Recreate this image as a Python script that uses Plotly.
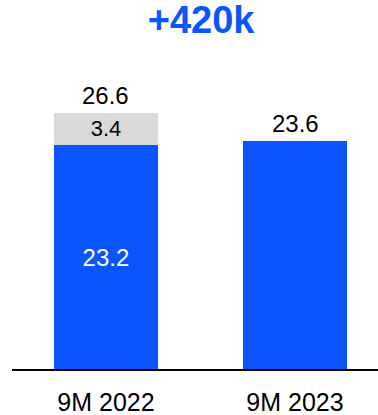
import plotly.graph_objects as go

categories = ["9M 2022", "9M 2023"]
base_values = [23.2, 23.6]
extra_values = [3.4, 0]
total_labels = ["26.6", "23.6"]
title_text = "+420k"

BLUE = "#0A55FF"
GRAY = "#D9D9D9"
FONT = "Liberation Sans, Arial, sans-serif"

fig = go.Figure()
fig.add_trace(go.Bar(
    x=categories, y=base_values, marker_color=BLUE, width=0.55,
    text=[f"{v:.1f}" if i == 0 else "" for i, v in enumerate(base_values)],
    textposition="inside", insidetextanchor="middle",
    textfont=dict(color="white", size=24, family=FONT),
    marker_line_width=0, showlegend=False, hoverinfo="skip",
))
fig.add_trace(go.Bar(
    x=categories, y=extra_values, marker_color=GRAY, width=0.55,
    text=[f"{v:.1f}" if v else "" for v in extra_values],
    textposition="inside", insidetextanchor="middle",
    textfont=dict(color="black", size=22, family=FONT),
    marker_line_width=0, showlegend=False, hoverinfo="skip",
))

totals = [b + e for b, e in zip(base_values, extra_values)]
for c, t, lab in zip(categories, totals, total_labels):
    fig.add_annotation(x=c, y=t, text=lab, showarrow=False, yanchor="bottom",
                       yshift=2, font=dict(size=24, color="black", family=FONT))

fig.update_layout(
    barmode="stack",
    width=378, height=415,
    margin=dict(l=12, r=0, t=60, b=46),
    paper_bgcolor="white", plot_bgcolor="white",
    title=dict(text=f"<b>{title_text}</b>", x=0.532, xanchor="center",
               y=1 - 20 / 415, yanchor="middle",
               font=dict(size=38, color=BLUE, family=FONT)),
    font=dict(family=FONT),
    uniformtext=dict(mode=False),
)
fig.update_xaxes(range=[-0.497, 1.439], showline=True, linecolor="black", linewidth=1.5,
                 ticks="", ticklabelstandoff=10,
                 tickfont=dict(size=25, color="black", family=FONT),
                 showgrid=False, zeroline=False)
fig.update_yaxes(range=[0, 32.05], visible=False, showgrid=False, zeroline=False)

fig.write_html("out.html")
